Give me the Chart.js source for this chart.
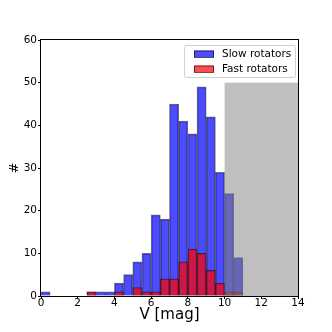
<!DOCTYPE html>
<html>
<head>
<meta charset="utf-8">
<script src="https://cdn.jsdelivr.net/npm/chart.js@4"></script>
<style>
  html, body { margin: 0; padding: 0; background: #fff; }
  #wrap { width: 332px; height: 332px; }
</style>
</head>
<body>
<div id="wrap"><canvas id="histChart"></canvas></div>
<script>
// Bin edges: 0 to 14 in steps of 0.5 (counts per bin, left to right)
const binStart = 0;
const binWidth = 0.5;
const slowCounts = [1, 0, 0, 0, 0, 1, 1, 1, 3, 5, 8, 10, 19, 18, 45, 41, 38, 49, 42, 29, 24, 9, 0, 0, 0, 0, 0, 0];
const fastCounts = [0, 0, 0, 0, 0, 1, 0, 0, 1, 0, 2, 1, 1, 4, 4, 8, 11, 10, 6, 3, 1, 1, 0, 0, 0, 0, 0, 0];
const seriesLabels = ['Slow rotators', 'Fast rotators'];
// Shaded region (magnitude range and height)
const shadeRange = [10, 14];
const shadeTop = 50;

// counts -> {x: bin centre, y: count}, empty bins dropped
function toPoints(counts) {
    return counts
        .map((c, i) => ({ x: binStart + binWidth * (i + 0.5), y: c }))
        .filter(p => p.y > 0);
}

const FONT = 'DejaVu Sans';

// gray band drawn over the bars
const shadePlugin = {
    id: 'shade',
    afterDatasetsDraw(chart) {
        const { ctx, scales: { x, y } } = chart;
        const x0 = x.getPixelForValue(shadeRange[0]);
        const x1 = x.getPixelForValue(shadeRange[1]);
        const y0 = y.getPixelForValue(0);
        const y1 = y.getPixelForValue(shadeTop);
        ctx.save();
        ctx.fillStyle = 'rgba(128,128,128,0.5)';
        ctx.fillRect(x0, y1, x1 - x0, y0 - y1);
        ctx.restore();
    }
};

// axes frame + legend box like matplotlib
const framePlugin = {
    id: 'frame',
    afterDraw(chart) {
        const { ctx, chartArea: a } = chart;
        ctx.save();
        ctx.strokeStyle = '#000';
        ctx.lineWidth = 1;
        ctx.strokeRect(a.left - 0.5, a.top - 0.5, a.right - a.left + 1, a.bottom - a.top + 1);

        // legend
        const bx = 184, by = 45, bw = 111, bh = 32;
        ctx.fillStyle = 'rgba(255,255,255,0.8)';
        ctx.strokeStyle = '#d0d0d0';
        ctx.beginPath();
        ctx.roundRect(bx + 0.5, by + 0.5, bw, bh, 2);
        ctx.fill();
        ctx.stroke();
        ctx.font = '10.5px ' + FONT;
        ctx.textBaseline = 'middle';
        // legend rows follow the array order (slow first)
        const rows = chart.data.datasets.slice().sort((p, q) => seriesLabels.indexOf(p.label) - seriesLabels.indexOf(q.label));
        rows.forEach((ds, i) => {
            const ry = by + 9 + i * 15;
            ctx.fillStyle = ds.backgroundColor;
            ctx.fillRect(bx + 10, ry - 3.5, 20, 7);
            ctx.strokeStyle = ds.borderColor;
            ctx.strokeRect(bx + 10.5, ry - 3, 19, 6.5);
            ctx.fillStyle = '#000';
            ctx.fillText(ds.label, bx + 38, ry + 0.5);
        });
        ctx.restore();
    }
};

const ctx = document.getElementById('histChart').getContext('2d');
new Chart(ctx, {
    type: 'bar',
    data: {
        datasets: [
            {
                label: seriesLabels[0],
                data: toPoints(slowCounts),
                backgroundColor: 'rgba(0,0,255,0.7)',
                borderColor: 'rgba(0,0,0,0.55)',
                borderWidth: 1,
                borderSkipped: 'bottom',
                order: 2
            },
            {
                label: seriesLabels[1],
                data: toPoints(fastCounts),
                backgroundColor: 'rgba(255,0,0,0.7)',
                borderColor: 'rgba(0,0,0,0.55)',
                borderWidth: 1,
                borderSkipped: 'bottom',
                order: 1
            }
        ]
    },
    options: {
        responsive: true,
        maintainAspectRatio: false,
        animation: false,
        grouped: false,
        barPercentage: 1,
        categoryPercentage: 1,
        layout: { padding: { top: 40, right: 34, left: 0, bottom: 0 } },
        plugins: {
            legend: { display: false },
            tooltip: { enabled: false }
        },
        scales: {
            x: {
                type: 'linear',
                min: 0,
                max: 14,
                offset: false,
                border: { display: false },
                grid: { offset: false, drawOnChartArea: false, tickLength: 3, tickColor: '#000' },
                ticks: { stepSize: 2, color: '#000', padding: -2, font: { family: FONT, size: 10.5 } },
                title: {
                    display: true,
                    text: 'V [mag]',
                    color: '#000',
                    font: { family: FONT, size: 15 },
                    padding: { top: 0, bottom: 8 }
                },
                afterFit(scale) { scale.height = 36; }
            },
            y: {
                min: 0,
                max: 60,
                border: { display: false },
                grid: { drawOnChartArea: false, tickLength: 3, tickColor: '#000' },
                ticks: { stepSize: 10, color: '#000', padding: 1, font: { family: FONT, size: 10.5 } },
                title: {
                    display: true,
                    text: '#',
                    color: '#000',
                    font: { family: FONT, size: 13 },
                    padding: { top: 7, bottom: 0 }
                },
                afterFit(scale) { scale.width = 41; }
            }
        }
    },
    plugins: [shadePlugin, framePlugin]
});
</script>
</body>
</html>
